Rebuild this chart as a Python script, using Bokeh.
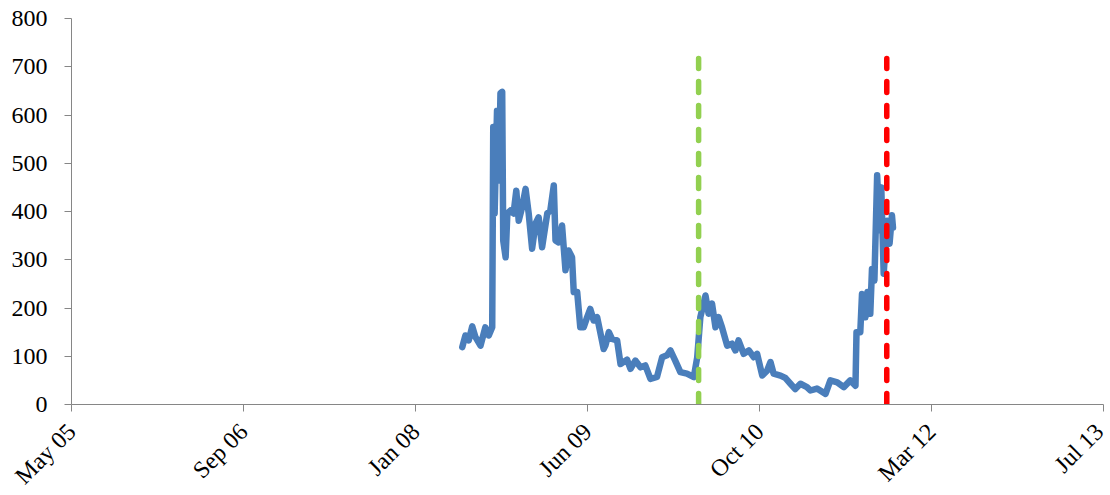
import pandas as pd
from datetime import datetime, timedelta
from bokeh.plotting import figure
from bokeh.models import Range1d, FixedTicker, DatetimeTickFormatter
from bokeh.embed import file_html
from bokeh.resources import INLINE

# ---- data ----
dates = [
    "2008-06-10", "2008-06-19", "2008-06-29", "2008-07-09", "2008-07-18", "2008-08-02",
    "2008-08-16", "2008-08-26", "2008-09-05", "2008-09-08", "2008-09-12", "2008-09-19",
    "2008-09-24", "2008-09-29", "2008-10-04", "2008-10-07", "2008-10-14", "2008-10-19",
    "2008-10-28", "2008-11-06", "2008-11-14", "2008-11-21", "2008-12-01", "2008-12-11",
    "2008-12-20", "2008-12-30", "2009-01-09", "2009-01-18", "2009-01-28", "2009-02-12",
    "2009-02-21", "2009-03-03", "2009-03-08", "2009-03-17", "2009-03-27", "2009-04-06",
    "2009-04-15", "2009-04-25", "2009-04-30", "2009-05-10", "2009-05-19", "2009-05-29",
    "2009-06-08", "2009-06-17", "2009-06-27", "2009-07-07", "2009-07-16", "2009-07-26",
    "2009-07-31", "2009-08-10", "2009-08-19", "2009-09-03", "2009-09-13", "2009-10-02",
    "2009-10-12", "2009-10-26", "2009-11-10", "2009-11-24", "2009-12-09", "2009-12-28",
    "2010-01-12", "2010-01-26", "2010-02-05", "2010-02-19", "2010-03-06", "2010-03-25",
    "2010-04-14", "2010-04-24", "2010-05-03", "2010-05-18", "2010-05-27", "2010-06-06",
    "2010-06-16", "2010-06-25", "2010-07-05", "2010-07-20", "2010-08-03", "2010-08-13",
    "2010-08-22", "2010-09-06", "2010-09-21", "2010-10-05", "2010-10-15", "2010-10-30",
    "2010-11-13", "2010-11-23", "2010-12-02", "2010-12-22", "2011-01-05", "2011-01-20",
    "2011-02-03", "2011-02-18", "2011-03-09", "2011-03-19", "2011-04-07", "2011-05-02",
    "2011-05-16", "2011-06-05", "2011-06-24", "2011-07-13", "2011-07-28", "2011-07-31",
    "2011-08-11", "2011-08-16", "2011-08-26", "2011-09-01", "2011-09-09", "2011-09-14",
    "2011-09-21", "2011-09-29", "2011-10-06", "2011-10-11", "2011-10-18", "2011-10-28",
    "2011-11-04", "2011-11-11", "2011-11-14",
]
values = [
    119, 143, 133, 162, 140, 122,
    160, 143, 160, 575, 396, 609,
    464, 645, 648, 340, 305, 396,
    402, 396, 443, 381, 409, 447,
    396, 323, 375, 388, 326, 396,
    402, 454, 340, 336, 371, 278,
    319, 305, 233, 233, 160, 160,
    181, 198, 174, 181, 150, 115,
    122, 150, 136, 133, 84, 93,
    74, 91, 77, 81, 53, 57,
    98, 102, 112, 91, 67, 64,
    57, 98, 181, 226, 188, 209,
    160, 181, 160, 122, 126, 112,
    133, 105, 112, 98, 105, 60,
    70, 88, 64, 60, 55, 43,
    32, 43, 36, 29, 33, 22,
    50, 46, 36, 50, 39, 150,
    150, 229, 181, 233, 188, 281,
    257, 475, 361, 450, 271, 381,
    333, 392, 367,
]

event_dates = ["2010-04-28", "2011-10-27"]
event_colors = ["#92D050", "#FF0000"]
event_top = 717

axis_start = "2005-05-01"
tick_step_days = 500
tick_labels = ["May 05", "Sep 06", "Jan 08", "Jun 09", "Oct 10", "Mar 12", "Jul 13"]
y_ticks = [0, 100, 200, 300, 400, 500, 600, 700, 800]

# ---- build ----
x = pd.to_datetime(dates)
start = datetime.strptime(axis_start, "%Y-%m-%d")
tick_dates = [start + timedelta(days=tick_step_days * i) for i in range(len(tick_labels))]
tick_ms = [(d - datetime(1970, 1, 1)).total_seconds() * 1000 for d in tick_dates]

FONT = "Liberation Serif"

p = figure(frame_width=1032, frame_height=386, x_axis_type="datetime",
           output_backend="svg", toolbar_location=None,
           x_range=Range1d(tick_dates[0], tick_dates[-1]),
           y_range=Range1d(0, 800),
           min_border_left=71, min_border_right=5, min_border_top=18, min_border_bottom=80)
p.outline_line_color = None
p.xgrid.visible = False
p.ygrid.visible = False
p.background_fill_color = "white"
p.border_fill_color = "white"

p.line(x, values, line_color="#4A7EBB", line_width=6.5, line_join="round", line_cap="round")

for d, c in zip(event_dates, event_colors):
    dd = pd.to_datetime(d)
    p.segment(x0=[dd], y0=[0], x1=[dd], y1=[event_top], line_color=c, line_width=5.5,
              line_dash="11 13", line_cap="round")

for ax in (p.xaxis[0], p.yaxis[0]):
    ax.axis_line_color = "#868686"
    ax.major_tick_line_color = "#868686"
    ax.minor_tick_line_color = None
    ax.major_tick_in = 0
    ax.major_tick_out = 7
    ax.major_label_text_font = FONT
    ax.major_label_text_font_size = "24px"
    ax.major_label_text_color = "#000000"

p.yaxis[0].ticker = FixedTicker(ticks=y_ticks)
p.yaxis[0].major_label_standoff = 17

p.xaxis[0].ticker = FixedTicker(ticks=tick_ms)
fmt = "%b %y"
p.xaxis[0].formatter = DatetimeTickFormatter(
    microseconds=fmt, milliseconds=fmt, seconds=fmt, minsec=fmt, minutes=fmt,
    hourmin=fmt, hours=fmt, days=fmt, months=fmt, years=fmt)
p.xaxis[0].major_label_orientation = 0.785398
p.xaxis[0].major_label_standoff = 16

open("out.html", "w").write(file_html(p, INLINE))
